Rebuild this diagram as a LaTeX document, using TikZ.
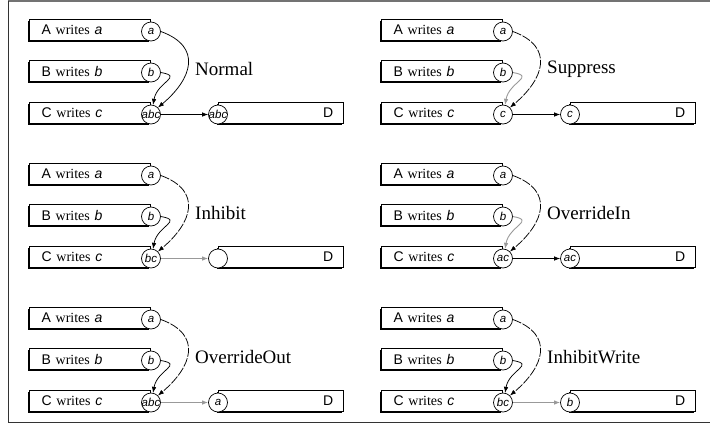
\documentclass[tikz,border=0pt]{standalone}
\usepackage{fontspec}
\setmainfont{Liberation Serif}
\setsansfont{Liberation Sans}
\usetikzlibrary{arrows.meta,shadows}
\definecolor{dimgray}{gray}{0.6}
\definecolor{framegray}{gray}{0.45}
\newcommand{\portlbl}[1]{\makebox[0pt]{#1}}
\newcommand{\writer}[1]{{\sffamily #1} writes {\sffamily\itshape\MakeLowercase{#1}}}
% #1 name, #2 shift, #3 label, #4 port of C, #5 port of D, #6-#8 styles of the a, b and out lines
\newcommand{\flowpanel}[8]{%
  \begin{scope}[shift={#2}]
    \node[wbox, anchor=east] (#1A) at (151,-30) {\writer{A}};
    \node[wbox, anchor=east] (#1B) at (151,-71) {\writer{B}};
    \node[wbox, anchor=east] (#1C) at (151,-113) {\writer{C}};
    \node[dbox, anchor=west] (#1D) at (218,-113) {\sffamily D};
    \node[port] (#1pa) at (151,-31.5) {\portlbl{a}};
    \node[port] (#1pb) at (151,-72.5) {\portlbl{b}};
    \node[port] (#1pc) at (151,-114.5) {\portlbl{#4}};
    \node[port] (#1pd) at (218,-114.5) {\portlbl{#5}};
    \node[mode, anchor=west] (#1lbl) at (195,-69) {#3};
    \draw[#6] (#1pa.east) to[out=-20, in=40, looseness=1.5] (#1pc.north east);
    \draw[#7] (#1pb.east) to[out=-10, in=80, looseness=1.8] (#1pc.78);
    \draw[#8] (#1pc.east) -- (#1pd.west);
  \end{scope}}

\begin{document}
\begin{tikzpicture}[x=1pt, y=1pt,
    wbox/.style={rectangle, draw, fill=white, line width=0.7pt,
      minimum width=121pt, minimum height=21pt, inner xsep=12pt,
      text width=97pt, align=left, font=\fontsize{14}{16}\selectfont,
      drop shadow={shadow xshift=-1.3pt, shadow yshift=-1.3pt, fill=black, opacity=1}},
    dbox/.style={wbox, minimum width=125pt, inner xsep=10pt, text width=105pt, align=right},
    port/.style={circle, draw, fill=white, line width=0.7pt, minimum size=19pt,
      inner sep=0pt, font=\sffamily\itshape\fontsize{11.5}{13}\selectfont},
    mode/.style={inner sep=0pt, font=\fontsize{19}{22}\selectfont},
    flow/.style={-{Latex[length=6pt,width=4.5pt]}, line width=0.75pt},
    dashflow/.style={flow, dash pattern=on 9pt off 1.5pt},
    dimflow/.style={flow, draw=dimgray, line width=0.9pt}]
  \useasboundingbox (0,0) rectangle (710,-432);
  % frame
  \draw[framegray, line width=1.6pt] (8,-1) -- (710,-1);
  \draw[black!80, line width=0.7pt] (8,-1) -- (8,-422) -- (710,-422);

  \flowpanel{norm}{(0,0)}{Normal}{abc}{abc}{flow}{flow}{flow}
  \flowpanel{supp}{(352,0)}{Suppress}{c}{c}{dashflow}{dimflow}{flow}
  \flowpanel{inh}{(0,-144)}{Inhibit}{bc}{}{dashflow}{flow}{dimflow}
  \flowpanel{ovin}{(352,-144)}{OverrideIn}{ac}{ac}{dashflow}{dimflow}{flow}
  \flowpanel{ovout}{(0,-288)}{OverrideOut}{abc}{a}{dashflow}{flow}{dimflow}
  \flowpanel{inhw}{(352,-288)}{InhibitWrite}{bc}{b}{dashflow}{flow}{dimflow}
\end{tikzpicture}
\end{document}
